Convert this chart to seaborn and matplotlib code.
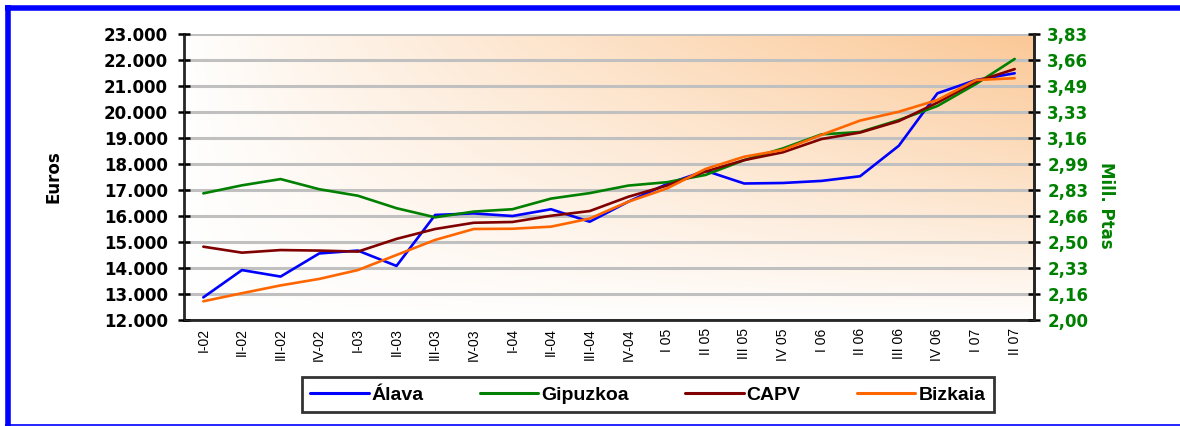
import numpy as np
import pandas as pd
import matplotlib.pyplot as plt
import matplotlib.ticker as tkr
from matplotlib.lines import Line2D
import seaborn as sns

sns.set_style("white")
plt.rcParams["font.family"] = ["DejaVu Sans"]
plt.rcParams["text.color"] = "black"
plt.rcParams["xtick.color"] = "black"
plt.rcParams["ytick.color"] = "black"
plt.rcParams["axes.labelcolor"] = "black"

quarters = [
    "I-02", "II-02", "III-02", "IV-02",
    "I-03", "II-03", "III-03", "IV-03",
    "I-04", "II-04", "III-04", "IV-04",
    "I 05", "II 05", "III 05", "IV 05",
    "I 06", "II 06", "III 06", "IV 06",
    "I 07", "II 07",
]
alava = [12870, 13920, 13670, 14560, 14670, 14080, 16040, 16100, 16000, 16260, 15780,
         16550, 17230, 17740, 17250, 17270, 17350, 17530, 18700, 20720, 21230, 21490]
gipuzkoa = [16870, 17180, 17420, 17030, 16780, 16300, 15950, 16170, 16260, 16670, 16880,
            17170, 17300, 17580, 18150, 18600, 19140, 19230, 19690, 20230, 21080, 22040]
capv = [14820, 14590, 14690, 14670, 14630, 15120, 15500, 15740, 15770, 16010, 16190,
        16740, 17170, 17710, 18150, 18450, 18960, 19210, 19650, 20360, 21170, 21650]
bizkaia = [12720, 13030, 13330, 13580, 13920, 14500, 15080, 15500, 15510, 15590, 15900,
           16550, 17060, 17810, 18280, 18540, 19120, 19670, 20010, 20460, 21230, 21300]

euro_ticks = [12000, 13000, 14000, 15000, 16000, 17000, 18000, 19000, 20000, 21000, 22000, 23000]
ptas_labels = ["2,00", "2,16", "2,33", "2,50", "2,66", "2,83", "2,99", "3,16", "3,33", "3,49", "3,66", "3,83"]

series = {"Álava": alava, "Gipuzkoa": gipuzkoa, "CAPV": capv, "Bizkaia": bizkaia}
palette = {"Álava": "#0000FF", "Gipuzkoa": "#008000", "CAPV": "#800000", "Bizkaia": "#FF6600"}

df = pd.DataFrame(
    [(i, q, name, v) for name, vals in series.items() for i, (q, v) in enumerate(zip(quarters, vals))],
    columns=["idx", "quarter", "zona", "euros"],
)

fig = plt.figure(figsize=(11.8, 4.26), dpi=100)
ax = fig.add_axes([184 / 1180, 1 - 320 / 426, 850 / 1180, 286 / 426])

# diagonal white -> orange background
gx, gy = np.meshgrid(np.linspace(0, 1, 300), np.linspace(0, 1, 120))
t = (gx * gy) ** 0.85
c0 = np.array([1.0, 1.0, 1.0])
c1 = np.array([251, 200, 150]) / 255
grad = c0[None, None, :] * (1 - t[..., None]) + c1[None, None, :] * t[..., None]
ax.imshow(grad, extent=[0, 1, 0, 1], transform=ax.transAxes, origin="lower",
          aspect="auto", zorder=0)

sns.lineplot(data=df, x="idx", y="euros", hue="zona", palette=palette,
             linewidth=1.9, ax=ax, legend=False, zorder=3)

ax.set_xlim(-0.5, len(quarters) - 0.5)
ax.set_ylim(12000, 23000)
ax.set_yticks(euro_ticks)
ax.yaxis.set_major_formatter(tkr.FuncFormatter(lambda y, p: f"{int(y):,}".replace(",", ".")))
ax.set_xticks(np.arange(-0.5, len(quarters), 1))
ax.set_xticklabels([])
ax.set_xticks(np.arange(len(quarters)), minor=True)
ax.set_xticklabels(quarters, minor=True, rotation=90, fontsize=10, family="Liberation Sans")
ax.tick_params(axis="x", which="minor", length=0, pad=6)
ax.tick_params(axis="x", which="major", direction="inout", length=8, width=1.8)
ax.tick_params(axis="y", direction="inout", length=9, width=1.8, labelsize=12, pad=7)
for lbl in ax.get_yticklabels():
    lbl.set_fontweight("bold")
ax.grid(axis="y", color="#C0C0C0", linewidth=2.2, zorder=1)
ax.set_axisbelow(True)
ax.set_xlabel("")
ax.set_ylabel("Euros", fontsize=12, fontweight="bold")
ax.yaxis.set_label_coords(-121 / 850, 0.5)
for side in ["left", "bottom", "right"]:
    ax.spines[side].set_linewidth(1.8)
    ax.spines[side].set_color("black")
ax.spines["top"].set_visible(False)

ax2 = ax.twinx()
ax2.set_ylim(12000, 23000)
ax2.set_yticks(euro_ticks)
ax2.set_yticklabels(ptas_labels, color="#008000", fontweight="bold", fontsize=12)
ax2.tick_params(axis="y", direction="inout", length=9, width=1.8, pad=5)
ax2.spines["right"].set_linewidth(1.8)
ax2.spines["top"].set_visible(False)
ax2.set_ylabel("Mill. Ptas", rotation=270, color="#008000", fontsize=12,
               fontweight="bold", va="center")
ax2.yaxis.set_label_coords((1106 - 184) / 850, 0.40)

handles = [Line2D([], [], color=palette[k], linewidth=2.2) for k in series]
leg = fig.legend(handles, list(series), loc="center", bbox_to_anchor=(0.549, 0.073),
                 ncol=4, frameon=True, fancybox=False, edgecolor="black",
                 prop={"family": "Liberation Sans", "weight": "bold", "size": 14},
                 handlelength=3.0, handletextpad=0.15, columnspacing=2.9,
                 borderpad=0.45)
leg.get_frame().set_linewidth(2)

# blue frame
fig.add_artist(Line2D([7.5 / 1180, 7.5 / 1180], [0, 1 - 5 / 426], color="#0000FF",
                      linewidth=4, solid_capstyle="butt", transform=fig.transFigure))
fig.add_artist(Line2D([5 / 1180, 1], [1 - 7.5 / 426, 1 - 7.5 / 426], color="#0000FF",
                      linewidth=4, solid_capstyle="butt", transform=fig.transFigure))
fig.add_artist(Line2D([5 / 1180, 1], [1.5 / 426, 1.5 / 426], color="#0000FF",
                      linewidth=1.2, solid_capstyle="butt", transform=fig.transFigure))

fig.savefig("out.png", dpi=100)
